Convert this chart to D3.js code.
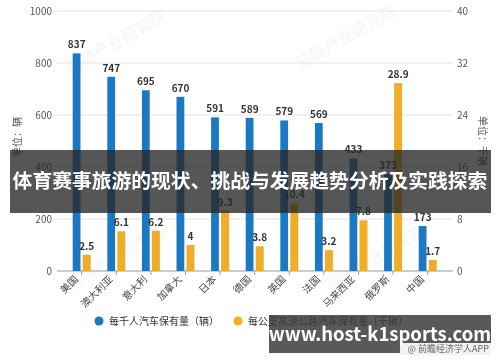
<!DOCTYPE html>
<html lang="zh">
<head>
<meta charset="UTF-8">
<title>每千人汽车保有量</title>
<script src="https://d3js.org/d3.v7.min.js"></script>
<style>
  body, html {
    margin: 0;
    padding: 0;
    background: #fff;
    font-family: "Noto Sans CJK SC", "Noto Sans", sans-serif;
  }
  text { font-family: "Noto Sans CJK SC", "Noto Sans", sans-serif; }
</style>
</head>
<body>
<div id="chart"></div>
<script>
// data
const countries = ["美国", "澳大利亚", "意大利", "加拿大", "日本", "德国", "英国", "法国", "马来西亚", "俄罗斯", "中国"];
const carsPerThousand = [837, 747, 695, 670, 591, 589, 579, 569, 433, 373, 173];
const carsPerKm = [2.5, 6.1, 6.2, 4, 9.3, 3.8, 10.4, 3.2, 7.8, 28.9, 1.7];
const leftTicks = [0, 200, 400, 600, 800, 1000];
const rightTicks = [0, 8, 16, 24, 32, 40];
const seriesNames = ["每千人汽车保有量（辆）", "每公里高速公路汽车保有量（千辆）"];

const width = 500, height = 362;
const blue = "#1b79c4", orange = "#f0ad27";

const svg = d3.select("#chart").append("svg")
  .attr("width", width)
  .attr("height", height);

const yLeft = d3.scaleLinear().domain([0, 1000]).range([271, 11]);
const yRight = d3.scaleLinear().domain([0, 40]).range([271, 11]);
const x = d3.scaleBand().domain(countries).range([64.4, 445]).padding(0);

// faint watermarks
const wm = svg.append("g").attr("fill", "#000").attr("opacity", 0.035)
  .attr("font-size", 16).attr("font-weight", "bold");
[[70, 75], [300, 70], [70, 290], [330, 290]].forEach(p => {
  wm.append("text").attr("transform", `translate(${p[0]},${p[1]}) rotate(-30)`).text("前瞻产业研究院");
});

// gridlines
svg.append("g").selectAll("line")
  .data(leftTicks.slice(1))
  .join("line")
  .attr("x1", 57).attr("x2", 453)
  .attr("y1", d => yLeft(d)).attr("y2", d => yLeft(d))
  .attr("stroke", "#e3e3e3").attr("stroke-width", 1);

// baseline + ticks
svg.append("line")
  .attr("x1", 57).attr("x2", 453)
  .attr("y1", yLeft(0)).attr("y2", yLeft(0))
  .attr("stroke", "#9a9a9a");
svg.append("g").selectAll("line")
  .data(countries)
  .join("line")
  .attr("x1", d => x(d) + x.bandwidth() / 2).attr("x2", d => x(d) + x.bandwidth() / 2)
  .attr("y1", yLeft(0)).attr("y2", yLeft(0) + 4)
  .attr("stroke", "#9a9a9a");

// left axis labels
svg.append("g").selectAll("text")
  .data(leftTicks)
  .join("text")
  .attr("x", 52).attr("y", d => yLeft(d) + 3.5)
  .attr("text-anchor", "end")
  .attr("font-size", 10).attr("fill", "#555")
  .text(d => d);

// right axis labels
svg.append("g").selectAll("text")
  .data(rightTicks)
  .join("text")
  .attr("x", 457).attr("y", d => yRight(d) + 3.5)
  .attr("text-anchor", "start")
  .attr("font-size", 10).attr("fill", "#555")
  .text(d => d);

// axis titles
svg.append("text")
  .attr("transform", "translate(21,137) rotate(-90)")
  .attr("text-anchor", "middle").attr("font-size", 10).attr("fill", "#555")
  .text("单位：辆");
svg.append("text")
  .attr("transform", "translate(479,141) rotate(90)")
  .attr("text-anchor", "middle").attr("font-size", 10).attr("fill", "#555")
  .text("单位：千辆");

// bars
const groups = svg.append("g").selectAll("g")
  .data(countries)
  .join("g")
  .attr("transform", d => `translate(${x(d) + x.bandwidth() / 2},0)`);

groups.append("rect")
  .attr("x", -9).attr("width", 7.8)
  .attr("y", (d, i) => yLeft(carsPerThousand[i]))
  .attr("height", (d, i) => yLeft(0) - yLeft(carsPerThousand[i]))
  .attr("fill", blue);

groups.append("rect")
  .attr("x", 1).attr("width", 8)
  .attr("y", (d, i) => yRight(carsPerKm[i]))
  .attr("height", (d, i) => yRight(0) - yRight(carsPerKm[i]))
  .attr("fill", orange);

groups.append("text")
  .attr("x", -5).attr("y", (d, i) => yLeft(carsPerThousand[i]) - 5)
  .attr("text-anchor", "middle")
  .attr("font-size", 10).attr("font-weight", "bold").attr("fill", "#333")
  .text((d, i) => carsPerThousand[i]);

groups.append("text")
  .attr("x", 5).attr("y", (d, i) => yRight(carsPerKm[i]) - 5)
  .attr("text-anchor", "middle")
  .attr("font-size", 10).attr("font-weight", "bold").attr("fill", "#333")
  .text((d, i) => carsPerKm[i]);

// x labels
groups.append("text")
  .attr("transform", "translate(-3,280) rotate(-45)")
  .attr("text-anchor", "end")
  .attr("font-size", 10).attr("fill", "#444")
  .text(d => d);

// legend
const legend = svg.append("g").attr("font-size", 10).attr("fill", "#333");
[[99, blue], [238, orange]].forEach((l, i) => {
  legend.append("circle").attr("cx", l[0]).attr("cy", 321).attr("r", 4.5).attr("fill", l[1]);
  legend.append("text").attr("x", l[0] + 10).attr("y", 324.5).text(seriesNames[i]);
});

// overlay banners
svg.append("rect")
  .attr("x", 10).attr("y", 150).attr("width", 481).attr("height", 63)
  .attr("fill", "rgba(38,38,38,0.78)");
svg.append("text")
  .attr("x", 250).attr("y", 188)
  .attr("text-anchor", "middle")
  .attr("font-size", 19.8).attr("font-weight", "bold").attr("fill", "#fff")
  .text("体育赛事旅游的现状、挑战与发展趋势分析及实践探索");

svg.append("rect")
  .attr("x", 269).attr("y", 315).attr("width", 222).attr("height", 38)
  .attr("fill", "rgba(60,60,60,0.85)");
svg.append("rect")
  .attr("x", 400).attr("y", 343).attr("width", 91).attr("height", 12)
  .attr("fill", "#f2f2f2");
svg.append("text")
  .attr("x", 489).attr("y", 352)
  .attr("text-anchor", "end")
  .attr("font-size", 9).attr("fill", "#666")
  .text("@ 前瞻经济学人APP");
svg.append("text")
  .attr("x", 380).attr("y", 341)
  .attr("text-anchor", "middle")
  .attr("font-size", 18.5).attr("font-weight", "bold").attr("fill", "#fff")
  .attr("font-family", "'Open Sans', 'DejaVu Sans', sans-serif")
  .text("www.host-k1sports.com");
</script>
</body>
</html>
